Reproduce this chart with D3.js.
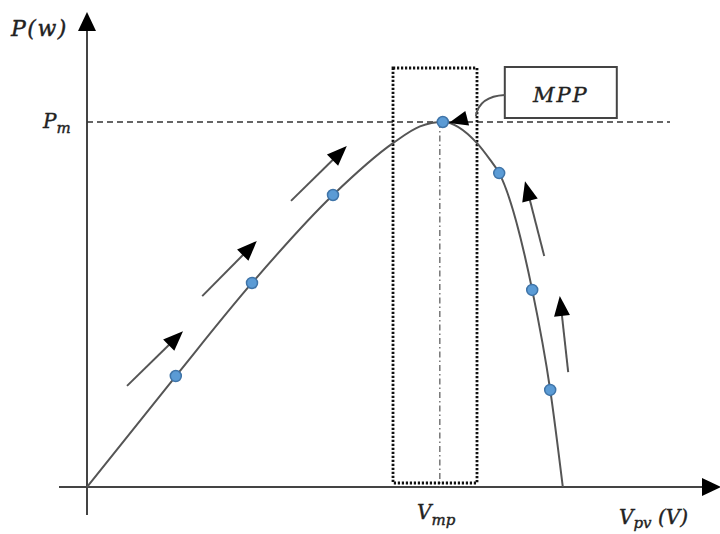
<!DOCTYPE html>
<html><head><meta charset="utf-8">
<script src="https://cdn.jsdelivr.net/npm/d3@7"></script>
<style>html,body{margin:0;padding:0;background:#fff;}svg{display:block;}</style>
</head><body>
<script>
// ---- data (arbitrary units: V in 0..100, P normalised so Pm = 100) ----
const curveV = [0, 14.8, 27.5, 41.0, 51.0, 55.5, 59.3, 65.0, 67.2, 68.7, 74.2, 77.2, 79.3];
const curveP = [0, 30.4, 55.9, 80.0, 94.2, 98.8, 100, 94.2, 89.6, 86.0, 54.0, 26.6, 0];
const pointV = [14.8, 27.5, 41.0, 59.3, 68.7, 74.2, 77.2];
const pointP = [30.4, 55.9, 80.0, 100, 86.0, 54.0, 26.6];
const arrowFromV = [6.67, 19.2, 34.0, 76.2, 80.2];
const arrowFromP = [27.7, 52.3, 78.4, 63.3, 31.5];
const arrowToV   = [16.0, 28.3, 43.3, 73.0, 78.8];
const arrowToP   = [42.7, 67.4, 93.4, 83.8, 52.3];
const Pm = 100;
const Vmp = 58.8;
const windowV = [51.0, 65.0];
const windowTopP = 114.8;
const labelYAxis = "P(w)";
const labelPm = ["P", "m"];
const labelVmp = ["V", "mp"];
const labelXAxis = ["V", "pv", " (V)"];
const labelMPP = "MPP";

// ---- layout ----
const W = 720, H = 534;
const x = d3.scaleLinear().domain([0, 100]).range([87, 687]);
const y = d3.scaleLinear().domain([0, 100]).range([487, 122]);

const svg = d3.select("body").append("svg").attr("width", W).attr("height", H);
const font = "'DejaVu Serif', serif";

// axes
const axisCol = "#444";
svg.append("line").attr("x1", x(0)).attr("x2", x(0)).attr("y1", 515).attr("y2", 28)
  .attr("stroke", axisCol).attr("stroke-width", 2);
svg.append("path").attr("d", `M${x(0)},12 L${x(0)-9},31 L${x(0)+9},31 Z`).attr("fill", "#000");
svg.append("line").attr("x1", 59).attr("x2", 705).attr("y1", y(0)).attr("y2", y(0))
  .attr("stroke", axisCol).attr("stroke-width", 2);
svg.append("path").attr("d", `M721,${y(0)} L702,${y(0)-9} L702,${y(0)+9} Z`).attr("fill", "#000");

// Pm dashed line
svg.append("line").attr("x1", x(0)).attr("x2", 670).attr("y1", y(Pm)).attr("y2", y(Pm))
  .attr("stroke", "#333").attr("stroke-width", 1.5).attr("stroke-dasharray", "6,4");

// Vmp dash-dot line
svg.append("line").attr("x1", x(Vmp)).attr("x2", x(Vmp)).attr("y1", y(Pm)).attr("y2", y(0))
  .attr("stroke", "#777").attr("stroke-width", 1.5).attr("stroke-dasharray", "6,3,1.5,3");

// dotted window
svg.append("rect").attr("x", x(windowV[0])).attr("y", y(windowTopP))
  .attr("width", x(windowV[1]) - x(windowV[0])).attr("height", y(0) - 4 - y(windowTopP))
  .attr("fill", "none").attr("stroke", "#111").attr("stroke-width", 2.8).attr("stroke-dasharray", "2.2,1.8");

// P-V curve
const curveData = curveV.map((v, i) => [v, curveP[i]]);
svg.append("path").datum(curveData)
  .attr("d", d3.line().x(d => x(d[0])).y(d => y(d[1])).curve(d3.curveMonotoneX))
  .attr("fill", "none").attr("stroke", "#555").attr("stroke-width", 2);

// direction arrows
function arrow(x1, y1, x2, y2, len, hw) {
  const dx = x2 - x1, dy = y2 - y1, L = Math.hypot(dx, dy);
  const ux = dx / L, uy = dy / L, px = -uy, py = ux;
  const bx = x2 - ux * len, by = y2 - uy * len;
  svg.append("line").attr("x1", x1).attr("y1", y1).attr("x2", bx + ux * 2).attr("y2", by + uy * 2)
    .attr("stroke", "#555").attr("stroke-width", 2);
  svg.append("path").attr("d", `M${x2},${y2} L${bx + px*hw},${by + py*hw} L${bx - px*hw},${by - py*hw} Z`)
    .attr("fill", "#000");
}
arrowFromV.forEach((v, i) => {
  arrow(x(v), y(arrowFromP[i]), x(arrowToV[i]), y(arrowToP[i]), 20, 8);
});

// markers
svg.selectAll("circle.pt").data(pointV.map((v, i) => [v, pointP[i]])).enter()
  .append("circle").attr("class", "pt")
  .attr("cx", d => x(d[0])).attr("cy", d => y(d[1])).attr("r", 5.5)
  .attr("fill", "#5b9bd5").attr("stroke", "#3f74a8").attr("stroke-width", 1.5);

// MPP callout
const px0 = x(pointV[3]), py0 = y(pointP[3]);
svg.append("rect").attr("x", px0 + 62).attr("y", py0 - 55).attr("width", 112).attr("height", 51)
  .attr("fill", "#fff").attr("stroke", "#444").attr("stroke-width", 2);
svg.append("text").attr("x", px0 + 118).attr("y", py0 - 20).attr("text-anchor", "middle")
  .attr("font-family", font).attr("font-style", "italic").attr("font-size", 21)
  .attr("letter-spacing", 2).attr("fill", "#222").attr("stroke", "#222").attr("stroke-width", 0.4)
  .text(labelMPP);
svg.append("path").attr("d", `M${px0+62},${py0-27} C${px0+42},${py0-26} ${px0+35},${py0-17} ${px0+33},${py0-6}`)
  .attr("fill", "none").attr("stroke", "#555").attr("stroke-width", 1.8);
(function(){
  const tx = px0 + 6, ty = py0 + 1, ux = -0.968, uy = 0.251, len = 19, hw = 7.5;
  const bx = tx - ux * len, by = ty - uy * len, ppx = -uy, ppy = ux;
  svg.append("path").attr("d", `M${tx},${ty} L${bx+ppx*hw},${by+ppy*hw} L${bx-ppx*hw},${by-ppy*hw} Z`).attr("fill", "#000");
})();

// labels
const lab = svg.append("g").attr("font-family", font).attr("font-style", "italic")
  .attr("fill", "#222").attr("stroke", "#222").attr("stroke-width", 0.4);
lab.append("text").attr("x", 11).attr("y", 36).attr("font-size", 22).attr("letter-spacing", 1.5).text(labelYAxis);
const tPm = lab.append("text").attr("x", 43).attr("y", 128).attr("font-size", 20);
tPm.append("tspan").text(labelPm[0]);
tPm.append("tspan").attr("dy", 5).attr("font-size", 15).text(labelPm[1]);
const tVmp = lab.append("text").attr("x", 417).attr("y", 519).attr("font-size", 20);
tVmp.append("tspan").text(labelVmp[0]);
tVmp.append("tspan").attr("dy", 6).attr("font-size", 15).text(labelVmp[1]);
const tV = lab.append("text").attr("x", 619).attr("y", 524).attr("font-size", 20);
tV.append("tspan").text(labelXAxis[0]);
tV.append("tspan").attr("dy", 4).attr("font-size", 15).text(labelXAxis[1]);
tV.append("tspan").attr("dy", -4).attr("font-size", 20).text(labelXAxis[2]);
</script>
</body></html>
